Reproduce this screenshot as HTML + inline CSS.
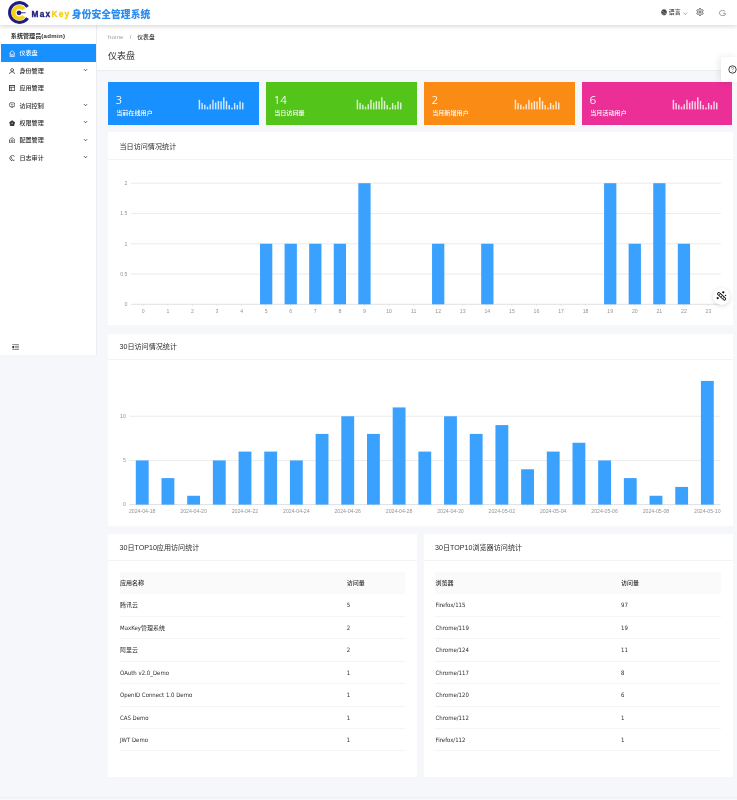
<!DOCTYPE html>
<html lang="zh-CN">
<head>
<meta charset="utf-8">
<title>MaxKey 身份安全管理系统</title>
<style>
*{box-sizing:border-box;margin:0;padding:0}
html,body{width:737px;height:800px;overflow:hidden;background:#f5f7fa}
body{position:relative;font-family:"Liberation Sans","Noto Sans CJK SC",sans-serif;color:rgba(0,0,0,.85)}
.abs{position:absolute}
#app{position:absolute;left:0;top:0;width:737px;height:800px;will-change:transform}
#hdr{left:0;top:0;width:737px;height:25px;background:#fff;box-shadow:0 1.5px 4px rgba(0,0,0,.13);z-index:3}
.brand{position:absolute;left:31.6px;top:9.1px;font-size:8.3px;line-height:1;font-weight:bold;white-space:nowrap}
.brand .max{color:#1f1c80;letter-spacing:1.25px;-webkit-text-stroke:0.35px #1f1c80}
.brand .key{color:#f4cf1a;letter-spacing:1.25px;-webkit-text-stroke:0.35px #f4cf1a}
.brand .sys{color:#2b8cf0;font-weight:900;font-size:9.75px;letter-spacing:0.05px;margin-left:1.4px;position:relative;top:1.1px}
.hr{position:absolute;top:8.5px;font-size:6px;line-height:1;color:rgba(0,0,0,.75);white-space:nowrap}
#side{left:0;top:25px;width:96.6px;height:329.8px;background:#fff;border-right:1px solid #eceef2;z-index:2}
.stitle{position:absolute;left:10.8px;top:7.5px;font-size:6.1px;font-weight:bold;line-height:1;white-space:nowrap;color:rgba(0,0,0,.85)}
.mi{position:absolute;left:1px;width:95px;height:17.4px;font-size:6.1px;line-height:17.4px;color:rgba(0,0,0,.85);font-weight:500;white-space:nowrap}
.mi.sel{background:#1890ff;color:#fff}
.mi .ic{position:absolute;left:8.0px;top:5.9px;width:6.3px;height:6.3px}
.mi .ic svg{display:block}
.mi .mt{position:absolute;left:18.4px;top:0}
.mi .chev{position:absolute;left:82.2px;top:6.5px}
.mi .chev svg{display:block}
.fold{position:absolute;left:11.8px;top:318.7px}
.fold svg{display:block}
#phead{left:96px;top:25px;width:641px;height:45.8px;background:#fff;border-bottom:1px solid #ebedf1}
.bc{position:absolute;left:12px;top:9.4px;font-size:5.8px;line-height:1;white-space:nowrap;color:rgba(0,0,0,.45)}
.bc .hm{font-size:6.2px;color:rgba(0,0,0,.4)}
.bc .sep{margin:0 6px 0 6.2px;color:rgba(0,0,0,.5)}
.bc .cur{color:rgba(0,0,0,.85);font-weight:500}
.ptitle{position:absolute;left:12px;top:27.4px;font-size:9px;line-height:1;white-space:nowrap;color:rgba(0,0,0,.85)}
.help{position:absolute;left:721.2px;top:57.3px;width:16px;height:24.9px;background:#fff;border-radius:2px 0 0 2px;box-shadow:-2px 0 7px rgba(0,0,0,.09);z-index:4}
.help svg{position:absolute;left:7.3px;top:7.5px}
.stat{position:absolute;top:82.3px;height:42.4px;color:#fff}
.stat .num{position:absolute;left:7.6px;top:12.5px;font-size:11.1px;line-height:1;font-family:"NanumGothic",sans-serif}
.stat .lbl{position:absolute;left:8.2px;top:28.2px;font-size:6.1px;font-weight:500;line-height:1;white-space:nowrap}
.stat .mini{position:absolute;left:89px;top:12.7px}
.card{position:absolute;background:#fff}
.ctitle{position:absolute;left:11.5px;font-size:7.1px;line-height:1;white-space:nowrap;color:rgba(0,0,0,.85)}
.csep{position:absolute;left:0;right:0;height:1px;background:#f3f3f3}
.ax{font-size:5.2px;fill:rgba(0,0,0,.45);font-family:"Liberation Sans","Noto Sans CJK SC",sans-serif}
.tb{position:absolute;left:11.8px;top:38.2px;width:285.5px;table-layout:fixed;border-collapse:collapse;font-family:"DejaVu Sans Condensed","Noto Sans CJK SC",sans-serif;font-size:6px;color:rgba(0,0,0,.85)}
.tb td{height:22.42px;padding:0;padding-left:0.2px;padding-top:0.8px;border-bottom:0.6px solid #f4f4f4;white-space:nowrap;vertical-align:middle;line-height:1}
.tb tr.th td{height:22px;background:#fafafa;border-bottom:none;font-weight:500}
.fab{position:absolute;left:712.5px;top:288px;width:17px;height:17px;border-radius:50%;background:#fff;box-shadow:0 1px 4px rgba(0,0,0,.15);z-index:4}
.fab svg{position:absolute;left:0;top:0}
</style>
</head>
<body>
<div id="app">
<div id="hdr" class="abs">
<svg width="32" height="25" viewBox="0 0 32 25" style="position:absolute;left:0;top:0">
<path d="M27.61 6.82 A9.9 9.9 0 1 0 27.61 18.18" fill="none" stroke="#1f1c80" stroke-width="3.1"/>
<path d="M23.87 9.18 A5.8 5.8 0 1 0 23.87 16.32" fill="none" stroke="#f4d21a" stroke-width="4.2"/>
<circle cx="19" cy="12.8" r="2.4" fill="#1f1c80"/>
<line x1="19" y1="12.8" x2="25.6" y2="12.8" stroke="#1f1c80" stroke-width="0.9"/>
</svg>
<div class="brand"><span class="max">Max</span><span class="key">Key</span><span class="sys">身份安全管理系统</span></div>
<div class="hr" style="left:661px;top:9.2px"><svg width="6" height="6.7" viewBox="0 0 12 13.4" style="position:absolute;left:0;top:0"><path d="M6 0.6 C9.2 0.6 11.6 3 11.6 6.7 C11.6 10.4 9.2 12.8 6 12.8 C2.8 12.8 0.4 10.4 0.4 6.7 C0.4 3 2.8 0.6 6 0.6 Z" fill="rgba(0,0,0,.72)"/><path d="M1.2 5 C3.5 4 5 5.5 6.5 7.5 C7.5 9 9.5 9.2 11 8.3 M2 10 C3.5 9 5 9.8 6 11.5" fill="none" stroke="rgba(255,255,255,.75)" stroke-width="1"/></svg><span style="position:absolute;left:7.8px;top:1.3px;font-size:5.9px;font-weight:bold;color:rgba(0,0,0,.72)">语言</span><svg width="4.5" height="3.4" viewBox="0 0 10 7.5" style="position:absolute;left:22.2px;top:2.4px"><path d="M1 1.2 L5 5.6 L9 1.2" fill="none" stroke="rgba(0,0,0,.6)" stroke-width="1.3"/></svg></div>
<div class="hr" style="left:696px;top:8.3px"><svg width="8" height="8" viewBox="0 0 16 16" style="display:block"><path d="M13.00 8.00 L12.99 8.26 L12.97 8.52 L12.94 8.78 L13.32 9.13 L13.80 9.55 L14.24 10.03 L14.54 10.51 L14.39 10.85 L14.24 11.18 L14.06 11.50 L13.87 11.81 L13.66 12.11 L13.44 12.41 L12.87 12.39 L12.24 12.24 L11.64 12.05 L11.15 11.89 L10.94 12.05 L10.72 12.19 L10.50 12.33 L10.27 12.46 L10.03 12.57 L9.79 12.67 L9.68 13.18 L9.55 13.80 L9.36 14.41 L9.10 14.91 L8.73 14.96 L8.37 14.99 L8.00 15.00 L7.63 14.99 L7.27 14.96 L6.90 14.91 L6.64 14.41 L6.45 13.80 L6.32 13.18 L6.21 12.67 L5.97 12.57 L5.73 12.46 L5.50 12.33 L5.28 12.19 L5.06 12.05 L4.85 11.89 L4.36 12.05 L3.76 12.24 L3.13 12.39 L2.56 12.41 L2.34 12.11 L2.13 11.81 L1.94 11.50 L1.76 11.18 L1.61 10.85 L1.46 10.51 L1.76 10.03 L2.20 9.55 L2.68 9.13 L3.06 8.78 L3.03 8.52 L3.01 8.26 L3.00 8.00 L3.01 7.74 L3.03 7.48 L3.06 7.22 L2.68 6.87 L2.20 6.45 L1.76 5.97 L1.46 5.49 L1.61 5.15 L1.76 4.82 L1.94 4.50 L2.13 4.19 L2.34 3.89 L2.56 3.59 L3.13 3.61 L3.76 3.76 L4.36 3.95 L4.85 4.11 L5.06 3.95 L5.28 3.81 L5.50 3.67 L5.73 3.54 L5.97 3.43 L6.21 3.33 L6.32 2.82 L6.45 2.20 L6.64 1.59 L6.90 1.09 L7.27 1.04 L7.63 1.01 L8.00 1.00 L8.37 1.01 L8.73 1.04 L9.10 1.09 L9.36 1.59 L9.55 2.20 L9.68 2.82 L9.79 3.33 L10.03 3.43 L10.27 3.54 L10.50 3.67 L10.72 3.81 L10.94 3.95 L11.15 4.11 L11.64 3.95 L12.24 3.76 L12.87 3.61 L13.44 3.59 L13.66 3.89 L13.87 4.19 L14.06 4.50 L14.24 4.82 L14.39 5.15 L14.54 5.49 L14.24 5.97 L13.80 6.45 L13.32 6.87 L12.94 7.22 L12.97 7.48 L12.99 7.74 Z" fill="none" stroke="rgba(0,0,0,.72)" stroke-width="1.7" stroke-linejoin="round"/><circle cx="8" cy="8" r="2.2" fill="none" stroke="rgba(0,0,0,.72)" stroke-width="1.6"/></svg></div>
<div class="hr" style="left:718.8px;top:9.9px"><svg width="6.8" height="6" viewBox="0 0 13.6 12" style="display:block"><path d="M12 2.6 C11 1.2 9.3 0.7 7.3 0.7 C3.6 0.7 1 3 1 6 C1 9.1 3.6 11.3 7.1 11.3 C9.3 11.3 11 10.7 12.6 9.5 V6.4 H7.8" fill="none" stroke="rgba(0,0,0,.62)" stroke-width="1.25"/></svg></div>
</div>
<div id="side" class="abs">
<div class="stitle">系统管理员<span style="letter-spacing:.3px">(admin)</span></div>
<div class="mi sel" style="top:19.30px"><span class="ic"><svg width="6.4" height="7.4" viewBox="0 0 12.8 14.8" style="display:block;margin:-0.7px 0 0 -0.2px"><path d="M0.9 7 L6.4 1.2 L11.9 7 M2.4 5.6 V13.6 H10.4 V5.6" fill="none" stroke="#fff" stroke-width="1.5" stroke-linejoin="round"/><path d="M4.7 13.6 V10 C4.7 9 5.4 8.5 6.4 8.5 C7.4 8.5 8.1 9 8.1 10 V13.6" fill="none" stroke="#fff" stroke-width="1.4"/></svg></span><span class="mt">仪表盘</span></div>
<div class="mi" style="top:36.70px"><span class="ic"><svg width="6.3" height="6.3" viewBox="0 0 12 12"><circle cx="6" cy="3.8" r="2.7" fill="none" stroke="rgba(0,0,0,.78)" stroke-width="1.5"/><path d="M0.9 11.6 C1.4 8.6 3.5 7.3 6 7.3 C8.5 7.3 10.6 8.6 11.1 11.6" fill="none" stroke="rgba(0,0,0,.78)" stroke-width="1.5"/></svg></span><span class="mt">身份管理</span><span class=chev><svg width="5" height="4" viewBox="0 0 10 8"><path d="M1.8 2.2 L5 5.6 L8.2 2.2" fill="none" stroke="rgba(0,0,0,.72)" stroke-width="1.7"/></svg></span></div>
<div class="mi" style="top:54.10px"><span class="ic"><svg width="6.3" height="6.3" viewBox="0 0 12 12"><rect x="1" y="1" width="10" height="10" fill="none" stroke="rgba(0,0,0,.78)" stroke-width="1.7"/><path d="M1 4.2 H11 M4.3 4.2 V11" stroke="rgba(0,0,0,.78)" stroke-width="1.4"/></svg></span><span class="mt">应用管理</span></div>
<div class="mi" style="top:71.50px"><span class="ic"><svg width="6.3" height="6.3" viewBox="0 0 12 12"><rect x="1" y="1.5" width="10" height="7.6" rx="2.6" fill="none" stroke="rgba(0,0,0,.78)" stroke-width="1.4"/><path d="M3.6 5.3 H8.4" stroke="rgba(0,0,0,.78)" stroke-width="1.3"/><path d="M4.5 9.1 L6 11.2 L7.5 9.1" fill="none" stroke="rgba(0,0,0,.78)" stroke-width="1.1"/></svg></span><span class="mt">访问控制</span><span class=chev><svg width="5" height="4" viewBox="0 0 10 8"><path d="M1.8 2.2 L5 5.6 L8.2 2.2" fill="none" stroke="rgba(0,0,0,.72)" stroke-width="1.7"/></svg></span></div>
<div class="mi" style="top:88.90px"><span class="ic"><svg width="6.3" height="6.3" viewBox="0 0 12 12"><path d="M6 0.6 L11.5 4.5 L9.6 11.2 H2.4 L0.5 4.5 Z" fill="rgba(0,0,0,.78)"/><circle cx="6" cy="6.3" r="1.6" fill="#999"/></svg></span><span class="mt">权限管理</span><span class=chev><svg width="5" height="4" viewBox="0 0 10 8"><path d="M1.8 2.2 L5 5.6 L8.2 2.2" fill="none" stroke="rgba(0,0,0,.72)" stroke-width="1.7"/></svg></span></div>
<div class="mi" style="top:106.30px"><span class="ic"><svg width="6.3" height="6.3" viewBox="0 0 12 12"><path d="M1 5.2 L6 1 L11 5.2 V11.2 H1 Z" fill="none" stroke="rgba(0,0,0,.78)" stroke-width="1.4" stroke-linejoin="round"/><circle cx="6" cy="7.3" r="2" fill="none" stroke="rgba(0,0,0,.78)" stroke-width="1.3"/></svg></span><span class="mt">配置管理</span><span class=chev><svg width="5" height="4" viewBox="0 0 10 8"><path d="M1.8 2.2 L5 5.6 L8.2 2.2" fill="none" stroke="rgba(0,0,0,.72)" stroke-width="1.7"/></svg></span></div>
<div class="mi" style="top:123.70px"><span class="ic"><svg width="6.3" height="6.3" viewBox="0 0 12 12"><path d="M10.6 2.4 A5.2 5.2 0 1 0 10.6 9.6" fill="none" stroke="rgba(0,0,0,.78)" stroke-width="1.5"/><path d="M5 3.5 V7 L8.2 9.6" fill="none" stroke="rgba(0,0,0,.78)" stroke-width="1.3"/></svg></span><span class="mt">日志审计</span><span class=chev><svg width="5" height="4" viewBox="0 0 10 8"><path d="M1.8 2.2 L5 5.6 L8.2 2.2" fill="none" stroke="rgba(0,0,0,.72)" stroke-width="1.7"/></svg></span></div>
<div class="fold"><svg width="7.2" height="6.2" viewBox="0 0 14.4 12.4"><path d="M0.5 1.2 H14 M6 4.7 H14 M6 7.7 H14 M0.5 11.2 H14" stroke="rgba(0,0,0,.55)" stroke-width="1.7"/><rect x="0.6" y="4" width="3.8" height="4.4" rx="0.8" fill="rgba(0,0,0,.8)"/></svg></div>
</div>
<div id="phead" class="abs">
<div class="bc"><span class="hm">home</span><span class="sep">/</span><span class="cur">仪表盘</span></div>
<div class="ptitle">仪表盘</div>
</div>
<div class="help"><svg width="9" height="9" viewBox="0 0 18 18"><circle cx="9" cy="9" r="7.4" fill="none" stroke="rgba(0,0,0,.82)" stroke-width="1.8"/><path d="M6.7 7.1 C6.7 5.6 7.7 4.9 9 4.9 C10.3 4.9 11.3 5.7 11.3 6.9 C11.3 8.5 9 8.6 9 10.5" fill="none" stroke="rgba(0,0,0,.5)" stroke-width="1.5"/><circle cx="9" cy="12.8" r="0.95" fill="rgba(0,0,0,.5)"/></svg></div>

<div class="stat" style="left:108px;width:151px;background:#1890ff"><span class="num">3</span><span class="lbl">当前在线用户</span><svg class="mini" width="50" height="16" viewBox="0 0 50 16">
<rect x="1.68" y="4.80" width="1.45" height="9.60" fill="rgba(255,255,255,.8)"/>
<rect x="4.39" y="8.00" width="1.45" height="6.40" fill="rgba(255,255,255,.8)"/>
<rect x="7.10" y="9.70" width="1.45" height="4.70" fill="rgba(255,255,255,.8)"/>
<rect x="9.81" y="11.70" width="1.45" height="2.70" fill="rgba(255,255,255,.8)"/>
<rect x="12.52" y="9.30" width="1.45" height="5.10" fill="rgba(255,255,255,.8)"/>
<rect x="15.23" y="4.80" width="1.45" height="9.60" fill="rgba(255,255,255,.8)"/>
<rect x="17.94" y="7.60" width="1.45" height="6.80" fill="rgba(255,255,255,.8)"/>
<rect x="20.65" y="6.00" width="1.45" height="8.40" fill="rgba(255,255,255,.8)"/>
<rect x="23.36" y="6.40" width="1.45" height="8.00" fill="rgba(255,255,255,.8)"/>
<rect x="26.07" y="2.30" width="1.45" height="12.10" fill="rgba(255,255,255,.8)"/>
<rect x="28.78" y="6.00" width="1.45" height="8.40" fill="rgba(255,255,255,.8)"/>
<rect x="31.49" y="10.00" width="1.45" height="4.40" fill="rgba(255,255,255,.8)"/>
<rect x="34.20" y="12.50" width="1.45" height="1.90" fill="rgba(255,255,255,.8)"/>
<rect x="36.91" y="8.00" width="1.45" height="6.40" fill="rgba(255,255,255,.8)"/>
<rect x="39.62" y="10.00" width="1.45" height="4.40" fill="rgba(255,255,255,.8)"/>
<rect x="42.33" y="6.40" width="1.45" height="8.00" fill="rgba(255,255,255,.8)"/>
<rect x="45.04" y="7.60" width="1.45" height="6.80" fill="rgba(255,255,255,.8)"/>
</svg></div>
<div class="stat" style="left:266px;width:151px;background:#52c41a"><span class="num">14</span><span class="lbl">当日访问量</span><svg class="mini" width="50" height="16" viewBox="0 0 50 16">
<rect x="1.68" y="4.80" width="1.45" height="9.60" fill="rgba(255,255,255,.8)"/>
<rect x="4.39" y="8.00" width="1.45" height="6.40" fill="rgba(255,255,255,.8)"/>
<rect x="7.10" y="9.70" width="1.45" height="4.70" fill="rgba(255,255,255,.8)"/>
<rect x="9.81" y="11.70" width="1.45" height="2.70" fill="rgba(255,255,255,.8)"/>
<rect x="12.52" y="9.30" width="1.45" height="5.10" fill="rgba(255,255,255,.8)"/>
<rect x="15.23" y="4.80" width="1.45" height="9.60" fill="rgba(255,255,255,.8)"/>
<rect x="17.94" y="7.60" width="1.45" height="6.80" fill="rgba(255,255,255,.8)"/>
<rect x="20.65" y="6.00" width="1.45" height="8.40" fill="rgba(255,255,255,.8)"/>
<rect x="23.36" y="6.40" width="1.45" height="8.00" fill="rgba(255,255,255,.8)"/>
<rect x="26.07" y="2.30" width="1.45" height="12.10" fill="rgba(255,255,255,.8)"/>
<rect x="28.78" y="6.00" width="1.45" height="8.40" fill="rgba(255,255,255,.8)"/>
<rect x="31.49" y="10.00" width="1.45" height="4.40" fill="rgba(255,255,255,.8)"/>
<rect x="34.20" y="12.50" width="1.45" height="1.90" fill="rgba(255,255,255,.8)"/>
<rect x="36.91" y="8.00" width="1.45" height="6.40" fill="rgba(255,255,255,.8)"/>
<rect x="39.62" y="10.00" width="1.45" height="4.40" fill="rgba(255,255,255,.8)"/>
<rect x="42.33" y="6.40" width="1.45" height="8.00" fill="rgba(255,255,255,.8)"/>
<rect x="45.04" y="7.60" width="1.45" height="6.80" fill="rgba(255,255,255,.8)"/>
</svg></div>
<div class="stat" style="left:424px;width:151px;background:#fa8c16"><span class="num">2</span><span class="lbl">当月新增用户</span><svg class="mini" width="50" height="16" viewBox="0 0 50 16">
<rect x="1.68" y="4.80" width="1.45" height="9.60" fill="rgba(255,255,255,.8)"/>
<rect x="4.39" y="8.00" width="1.45" height="6.40" fill="rgba(255,255,255,.8)"/>
<rect x="7.10" y="9.70" width="1.45" height="4.70" fill="rgba(255,255,255,.8)"/>
<rect x="9.81" y="11.70" width="1.45" height="2.70" fill="rgba(255,255,255,.8)"/>
<rect x="12.52" y="9.30" width="1.45" height="5.10" fill="rgba(255,255,255,.8)"/>
<rect x="15.23" y="4.80" width="1.45" height="9.60" fill="rgba(255,255,255,.8)"/>
<rect x="17.94" y="7.60" width="1.45" height="6.80" fill="rgba(255,255,255,.8)"/>
<rect x="20.65" y="6.00" width="1.45" height="8.40" fill="rgba(255,255,255,.8)"/>
<rect x="23.36" y="6.40" width="1.45" height="8.00" fill="rgba(255,255,255,.8)"/>
<rect x="26.07" y="2.30" width="1.45" height="12.10" fill="rgba(255,255,255,.8)"/>
<rect x="28.78" y="6.00" width="1.45" height="8.40" fill="rgba(255,255,255,.8)"/>
<rect x="31.49" y="10.00" width="1.45" height="4.40" fill="rgba(255,255,255,.8)"/>
<rect x="34.20" y="12.50" width="1.45" height="1.90" fill="rgba(255,255,255,.8)"/>
<rect x="36.91" y="8.00" width="1.45" height="6.40" fill="rgba(255,255,255,.8)"/>
<rect x="39.62" y="10.00" width="1.45" height="4.40" fill="rgba(255,255,255,.8)"/>
<rect x="42.33" y="6.40" width="1.45" height="8.00" fill="rgba(255,255,255,.8)"/>
<rect x="45.04" y="7.60" width="1.45" height="6.80" fill="rgba(255,255,255,.8)"/>
</svg></div>
<div class="stat" style="left:582px;width:150px;background:#eb2f96"><span class="num">6</span><span class="lbl">当月活动用户</span><svg class="mini" width="50" height="16" viewBox="0 0 50 16">
<rect x="1.68" y="4.80" width="1.45" height="9.60" fill="rgba(255,255,255,.8)"/>
<rect x="4.39" y="8.00" width="1.45" height="6.40" fill="rgba(255,255,255,.8)"/>
<rect x="7.10" y="9.70" width="1.45" height="4.70" fill="rgba(255,255,255,.8)"/>
<rect x="9.81" y="11.70" width="1.45" height="2.70" fill="rgba(255,255,255,.8)"/>
<rect x="12.52" y="9.30" width="1.45" height="5.10" fill="rgba(255,255,255,.8)"/>
<rect x="15.23" y="4.80" width="1.45" height="9.60" fill="rgba(255,255,255,.8)"/>
<rect x="17.94" y="7.60" width="1.45" height="6.80" fill="rgba(255,255,255,.8)"/>
<rect x="20.65" y="6.00" width="1.45" height="8.40" fill="rgba(255,255,255,.8)"/>
<rect x="23.36" y="6.40" width="1.45" height="8.00" fill="rgba(255,255,255,.8)"/>
<rect x="26.07" y="2.30" width="1.45" height="12.10" fill="rgba(255,255,255,.8)"/>
<rect x="28.78" y="6.00" width="1.45" height="8.40" fill="rgba(255,255,255,.8)"/>
<rect x="31.49" y="10.00" width="1.45" height="4.40" fill="rgba(255,255,255,.8)"/>
<rect x="34.20" y="12.50" width="1.45" height="1.90" fill="rgba(255,255,255,.8)"/>
<rect x="36.91" y="8.00" width="1.45" height="6.40" fill="rgba(255,255,255,.8)"/>
<rect x="39.62" y="10.00" width="1.45" height="4.40" fill="rgba(255,255,255,.8)"/>
<rect x="42.33" y="6.40" width="1.45" height="8.00" fill="rgba(255,255,255,.8)"/>
<rect x="45.04" y="7.60" width="1.45" height="6.80" fill="rgba(255,255,255,.8)"/>
</svg></div>

<div class="card" style="left:108px;top:132.3px;width:624.5px;height:192.7px">
<span class="ctitle" style="top:11.5px">当日访问情况统计</span>
<div class="csep" style="top:27px"></div>
<svg class="chart" width="624" height="192" viewBox="0 0 624 192" style="position:absolute;left:0;top:0">
<line x1="23.00" y1="172.30" x2="612.80" y2="172.30" stroke="#d6d6d6" stroke-width="0.75"/>
<text x="19.50" y="174.10" text-anchor="end" class="ax">0</text>
<line x1="23.00" y1="142.03" x2="612.80" y2="142.03" stroke="#e4e4e4" stroke-width="0.75"/>
<text x="19.50" y="143.83" text-anchor="end" class="ax">0.5</text>
<line x1="23.00" y1="111.75" x2="612.80" y2="111.75" stroke="#e4e4e4" stroke-width="0.75"/>
<text x="19.50" y="113.55" text-anchor="end" class="ax">1</text>
<line x1="23.00" y1="81.47" x2="612.80" y2="81.47" stroke="#e4e4e4" stroke-width="0.75"/>
<text x="19.50" y="83.27" text-anchor="end" class="ax">1.5</text>
<line x1="23.00" y1="51.20" x2="612.80" y2="51.20" stroke="#e4e4e4" stroke-width="0.75"/>
<text x="19.50" y="53.00" text-anchor="end" class="ax">2</text>
<line x1="35.29" y1="172.30" x2="35.29" y2="173.90" stroke="#d9d9d9" stroke-width="0.6"/>
<text x="35.29" y="180.70" text-anchor="middle" class="ax">0</text>
<line x1="59.86" y1="172.30" x2="59.86" y2="173.90" stroke="#d9d9d9" stroke-width="0.6"/>
<text x="59.86" y="180.70" text-anchor="middle" class="ax">1</text>
<line x1="84.44" y1="172.30" x2="84.44" y2="173.90" stroke="#d9d9d9" stroke-width="0.6"/>
<text x="84.44" y="180.70" text-anchor="middle" class="ax">2</text>
<line x1="109.01" y1="172.30" x2="109.01" y2="173.90" stroke="#d9d9d9" stroke-width="0.6"/>
<text x="109.01" y="180.70" text-anchor="middle" class="ax">3</text>
<line x1="133.59" y1="172.30" x2="133.59" y2="173.90" stroke="#d9d9d9" stroke-width="0.6"/>
<text x="133.59" y="180.70" text-anchor="middle" class="ax">4</text>
<line x1="158.16" y1="172.30" x2="158.16" y2="173.90" stroke="#d9d9d9" stroke-width="0.6"/>
<text x="158.16" y="180.70" text-anchor="middle" class="ax">5</text>
<rect x="152.02" y="111.75" width="12.29" height="60.55" fill="#3ba1ff"/>
<line x1="182.74" y1="172.30" x2="182.74" y2="173.90" stroke="#d9d9d9" stroke-width="0.6"/>
<text x="182.74" y="180.70" text-anchor="middle" class="ax">6</text>
<rect x="176.59" y="111.75" width="12.29" height="60.55" fill="#3ba1ff"/>
<line x1="207.31" y1="172.30" x2="207.31" y2="173.90" stroke="#d9d9d9" stroke-width="0.6"/>
<text x="207.31" y="180.70" text-anchor="middle" class="ax">7</text>
<rect x="201.17" y="111.75" width="12.29" height="60.55" fill="#3ba1ff"/>
<line x1="231.89" y1="172.30" x2="231.89" y2="173.90" stroke="#d9d9d9" stroke-width="0.6"/>
<text x="231.89" y="180.70" text-anchor="middle" class="ax">8</text>
<rect x="225.74" y="111.75" width="12.29" height="60.55" fill="#3ba1ff"/>
<line x1="256.46" y1="172.30" x2="256.46" y2="173.90" stroke="#d9d9d9" stroke-width="0.6"/>
<text x="256.46" y="180.70" text-anchor="middle" class="ax">9</text>
<rect x="250.32" y="51.20" width="12.29" height="121.10" fill="#3ba1ff"/>
<line x1="281.04" y1="172.30" x2="281.04" y2="173.90" stroke="#d9d9d9" stroke-width="0.6"/>
<text x="281.04" y="180.70" text-anchor="middle" class="ax">10</text>
<line x1="305.61" y1="172.30" x2="305.61" y2="173.90" stroke="#d9d9d9" stroke-width="0.6"/>
<text x="305.61" y="180.70" text-anchor="middle" class="ax">11</text>
<line x1="330.19" y1="172.30" x2="330.19" y2="173.90" stroke="#d9d9d9" stroke-width="0.6"/>
<text x="330.19" y="180.70" text-anchor="middle" class="ax">12</text>
<rect x="324.04" y="111.75" width="12.29" height="60.55" fill="#3ba1ff"/>
<line x1="354.76" y1="172.30" x2="354.76" y2="173.90" stroke="#d9d9d9" stroke-width="0.6"/>
<text x="354.76" y="180.70" text-anchor="middle" class="ax">13</text>
<line x1="379.34" y1="172.30" x2="379.34" y2="173.90" stroke="#d9d9d9" stroke-width="0.6"/>
<text x="379.34" y="180.70" text-anchor="middle" class="ax">14</text>
<rect x="373.19" y="111.75" width="12.29" height="60.55" fill="#3ba1ff"/>
<line x1="403.91" y1="172.30" x2="403.91" y2="173.90" stroke="#d9d9d9" stroke-width="0.6"/>
<text x="403.91" y="180.70" text-anchor="middle" class="ax">15</text>
<line x1="428.49" y1="172.30" x2="428.49" y2="173.90" stroke="#d9d9d9" stroke-width="0.6"/>
<text x="428.49" y="180.70" text-anchor="middle" class="ax">16</text>
<line x1="453.06" y1="172.30" x2="453.06" y2="173.90" stroke="#d9d9d9" stroke-width="0.6"/>
<text x="453.06" y="180.70" text-anchor="middle" class="ax">17</text>
<line x1="477.64" y1="172.30" x2="477.64" y2="173.90" stroke="#d9d9d9" stroke-width="0.6"/>
<text x="477.64" y="180.70" text-anchor="middle" class="ax">18</text>
<line x1="502.21" y1="172.30" x2="502.21" y2="173.90" stroke="#d9d9d9" stroke-width="0.6"/>
<text x="502.21" y="180.70" text-anchor="middle" class="ax">19</text>
<rect x="496.07" y="51.20" width="12.29" height="121.10" fill="#3ba1ff"/>
<line x1="526.79" y1="172.30" x2="526.79" y2="173.90" stroke="#d9d9d9" stroke-width="0.6"/>
<text x="526.79" y="180.70" text-anchor="middle" class="ax">20</text>
<rect x="520.64" y="111.75" width="12.29" height="60.55" fill="#3ba1ff"/>
<line x1="551.36" y1="172.30" x2="551.36" y2="173.90" stroke="#d9d9d9" stroke-width="0.6"/>
<text x="551.36" y="180.70" text-anchor="middle" class="ax">21</text>
<rect x="545.22" y="51.20" width="12.29" height="121.10" fill="#3ba1ff"/>
<line x1="575.94" y1="172.30" x2="575.94" y2="173.90" stroke="#d9d9d9" stroke-width="0.6"/>
<text x="575.94" y="180.70" text-anchor="middle" class="ax">22</text>
<rect x="569.79" y="111.75" width="12.29" height="60.55" fill="#3ba1ff"/>
<line x1="600.51" y1="172.30" x2="600.51" y2="173.90" stroke="#d9d9d9" stroke-width="0.6"/>
<text x="600.51" y="180.70" text-anchor="middle" class="ax">23</text>
</svg>
</div>
<div class="card" style="left:108px;top:333.6px;width:624.5px;height:192.2px">
<span class="ctitle" style="top:10.8px">30日访问情况统计</span>
<div class="csep" style="top:25.5px"></div>
<svg class="chart" width="624" height="191" viewBox="0 0 624 191" style="position:absolute;left:0;top:0">
<line x1="21.40" y1="170.60" x2="612.20" y2="170.60" stroke="#d6d6d6" stroke-width="0.75"/>
<text x="17.90" y="172.40" text-anchor="end" class="ax">0</text>
<line x1="21.40" y1="126.43" x2="612.20" y2="126.43" stroke="#e4e4e4" stroke-width="0.75"/>
<text x="17.90" y="128.23" text-anchor="end" class="ax">5</text>
<line x1="21.40" y1="82.25" x2="612.20" y2="82.25" stroke="#e4e4e4" stroke-width="0.75"/>
<text x="17.90" y="84.05" text-anchor="end" class="ax">10</text>
<line x1="34.24" y1="170.60" x2="34.24" y2="172.20" stroke="#d9d9d9" stroke-width="0.6"/>
<text x="34.24" y="179.00" text-anchor="middle" class="ax">2024-04-18</text>
<rect x="27.82" y="126.43" width="12.84" height="44.18" fill="#3ba1ff"/>
<line x1="59.93" y1="170.60" x2="59.93" y2="172.20" stroke="#d9d9d9" stroke-width="0.6"/>
<rect x="53.51" y="144.10" width="12.84" height="26.51" fill="#3ba1ff"/>
<line x1="85.62" y1="170.60" x2="85.62" y2="172.20" stroke="#d9d9d9" stroke-width="0.6"/>
<text x="85.62" y="179.00" text-anchor="middle" class="ax">2024-04-20</text>
<rect x="79.20" y="161.77" width="12.84" height="8.84" fill="#3ba1ff"/>
<line x1="111.30" y1="170.60" x2="111.30" y2="172.20" stroke="#d9d9d9" stroke-width="0.6"/>
<rect x="104.88" y="126.43" width="12.84" height="44.18" fill="#3ba1ff"/>
<line x1="136.99" y1="170.60" x2="136.99" y2="172.20" stroke="#d9d9d9" stroke-width="0.6"/>
<text x="136.99" y="179.00" text-anchor="middle" class="ax">2024-04-22</text>
<rect x="130.57" y="117.59" width="12.84" height="53.01" fill="#3ba1ff"/>
<line x1="162.68" y1="170.60" x2="162.68" y2="172.20" stroke="#d9d9d9" stroke-width="0.6"/>
<rect x="156.26" y="117.59" width="12.84" height="53.01" fill="#3ba1ff"/>
<line x1="188.37" y1="170.60" x2="188.37" y2="172.20" stroke="#d9d9d9" stroke-width="0.6"/>
<text x="188.37" y="179.00" text-anchor="middle" class="ax">2024-04-24</text>
<rect x="181.94" y="126.43" width="12.84" height="44.18" fill="#3ba1ff"/>
<line x1="214.05" y1="170.60" x2="214.05" y2="172.20" stroke="#d9d9d9" stroke-width="0.6"/>
<rect x="207.63" y="99.92" width="12.84" height="70.68" fill="#3ba1ff"/>
<line x1="239.74" y1="170.60" x2="239.74" y2="172.20" stroke="#d9d9d9" stroke-width="0.6"/>
<text x="239.74" y="179.00" text-anchor="middle" class="ax">2024-04-26</text>
<rect x="233.32" y="82.25" width="12.84" height="88.35" fill="#3ba1ff"/>
<line x1="265.43" y1="170.60" x2="265.43" y2="172.20" stroke="#d9d9d9" stroke-width="0.6"/>
<rect x="259.00" y="99.92" width="12.84" height="70.68" fill="#3ba1ff"/>
<line x1="291.11" y1="170.60" x2="291.11" y2="172.20" stroke="#d9d9d9" stroke-width="0.6"/>
<text x="291.11" y="179.00" text-anchor="middle" class="ax">2024-04-28</text>
<rect x="284.69" y="73.42" width="12.84" height="97.19" fill="#3ba1ff"/>
<line x1="316.80" y1="170.60" x2="316.80" y2="172.20" stroke="#d9d9d9" stroke-width="0.6"/>
<rect x="310.38" y="117.59" width="12.84" height="53.01" fill="#3ba1ff"/>
<line x1="342.49" y1="170.60" x2="342.49" y2="172.20" stroke="#d9d9d9" stroke-width="0.6"/>
<text x="342.49" y="179.00" text-anchor="middle" class="ax">2024-04-30</text>
<rect x="336.07" y="82.25" width="12.84" height="88.35" fill="#3ba1ff"/>
<line x1="368.17" y1="170.60" x2="368.17" y2="172.20" stroke="#d9d9d9" stroke-width="0.6"/>
<rect x="361.75" y="99.92" width="12.84" height="70.68" fill="#3ba1ff"/>
<line x1="393.86" y1="170.60" x2="393.86" y2="172.20" stroke="#d9d9d9" stroke-width="0.6"/>
<text x="393.86" y="179.00" text-anchor="middle" class="ax">2024-05-02</text>
<rect x="387.44" y="91.09" width="12.84" height="79.52" fill="#3ba1ff"/>
<line x1="419.55" y1="170.60" x2="419.55" y2="172.20" stroke="#d9d9d9" stroke-width="0.6"/>
<rect x="413.13" y="135.26" width="12.84" height="35.34" fill="#3ba1ff"/>
<line x1="445.23" y1="170.60" x2="445.23" y2="172.20" stroke="#d9d9d9" stroke-width="0.6"/>
<text x="445.23" y="179.00" text-anchor="middle" class="ax">2024-05-04</text>
<rect x="438.81" y="117.59" width="12.84" height="53.01" fill="#3ba1ff"/>
<line x1="470.92" y1="170.60" x2="470.92" y2="172.20" stroke="#d9d9d9" stroke-width="0.6"/>
<rect x="464.50" y="108.76" width="12.84" height="61.85" fill="#3ba1ff"/>
<line x1="496.61" y1="170.60" x2="496.61" y2="172.20" stroke="#d9d9d9" stroke-width="0.6"/>
<text x="496.61" y="179.00" text-anchor="middle" class="ax">2024-05-06</text>
<rect x="490.19" y="126.43" width="12.84" height="44.18" fill="#3ba1ff"/>
<line x1="522.30" y1="170.60" x2="522.30" y2="172.20" stroke="#d9d9d9" stroke-width="0.6"/>
<rect x="515.87" y="144.10" width="12.84" height="26.51" fill="#3ba1ff"/>
<line x1="547.98" y1="170.60" x2="547.98" y2="172.20" stroke="#d9d9d9" stroke-width="0.6"/>
<text x="547.98" y="179.00" text-anchor="middle" class="ax">2024-05-08</text>
<rect x="541.56" y="161.77" width="12.84" height="8.84" fill="#3ba1ff"/>
<line x1="573.67" y1="170.60" x2="573.67" y2="172.20" stroke="#d9d9d9" stroke-width="0.6"/>
<rect x="567.25" y="152.93" width="12.84" height="17.67" fill="#3ba1ff"/>
<line x1="599.36" y1="170.60" x2="599.36" y2="172.20" stroke="#d9d9d9" stroke-width="0.6"/>
<text x="599.36" y="179.00" text-anchor="middle" class="ax">2024-05-10</text>
<rect x="592.93" y="46.91" width="12.84" height="123.69" fill="#3ba1ff"/>
</svg>
</div>
<div class="card" style="left:108px;top:533.9px;width:308.6px;height:242.9px">
<span class="ctitle" style="top:11.3px">30日TOP10应用访问统计</span>
<div class="csep" style="top:26.4px"></div>
<table class="tb">
<colgroup><col style="width:226.8px"><col></colgroup>
<tr class="th"><td>应用名称</td><td>访问量</td></tr>
<tr><td>腾讯云</td><td>5</td></tr>
<tr><td>MaxKey管理系统</td><td>2</td></tr>
<tr><td>阿里云</td><td>2</td></tr>
<tr><td>OAuth v2.0_Demo</td><td>1</td></tr>
<tr><td>OpenID Connect 1.0 Demo</td><td>1</td></tr>
<tr><td>CAS Demo</td><td>1</td></tr>
<tr><td>JWT Demo</td><td>1</td></tr>
</table>
</div>
<div class="card" style="left:423.6px;top:533.9px;width:309px;height:242.9px">
<span class="ctitle" style="top:11.3px">30日TOP10浏览器访问统计</span>
<div class="csep" style="top:26.4px"></div>
<table class="tb">
<colgroup><col style="width:185.4px"><col></colgroup>
<tr class="th"><td>浏览器</td><td>访问量</td></tr>
<tr><td>Firefox/115</td><td>97</td></tr>
<tr><td>Chrome/119</td><td>19</td></tr>
<tr><td>Chrome/124</td><td>11</td></tr>
<tr><td>Chrome/117</td><td>8</td></tr>
<tr><td>Chrome/120</td><td>6</td></tr>
<tr><td>Chrome/112</td><td>1</td></tr>
<tr><td>Firefox/112</td><td>1</td></tr>
</table>
</div>
<div class="abs" style="left:0;top:797.3px;width:737px;height:1px;background:#eff0f4"></div>
<div class="abs" style="left:0;top:798.3px;width:737px;height:2px;background:#f7f8fa"></div>
<div class="fab"><svg width="17" height="17" viewBox="0 0 17 17"><g transform="rotate(42 8.6 8.3)"><rect x="3.6" y="7.05" width="10" height="2.5" rx="1.25" fill="none" stroke="#151515" stroke-width="0.95"/><circle cx="6.1" cy="8.3" r="0.55" fill="#151515"/><circle cx="8.6" cy="8.3" r="0.55" fill="#151515"/><circle cx="11.1" cy="8.3" r="0.55" fill="#151515"/></g><circle cx="10.3" cy="4.3" r="1.15" fill="#111"/><circle cx="12.5" cy="7.4" r="0.7" fill="#111"/><circle cx="4.7" cy="10.1" r="1.1" fill="#111"/></svg></div>
</div>
</body>
</html>
